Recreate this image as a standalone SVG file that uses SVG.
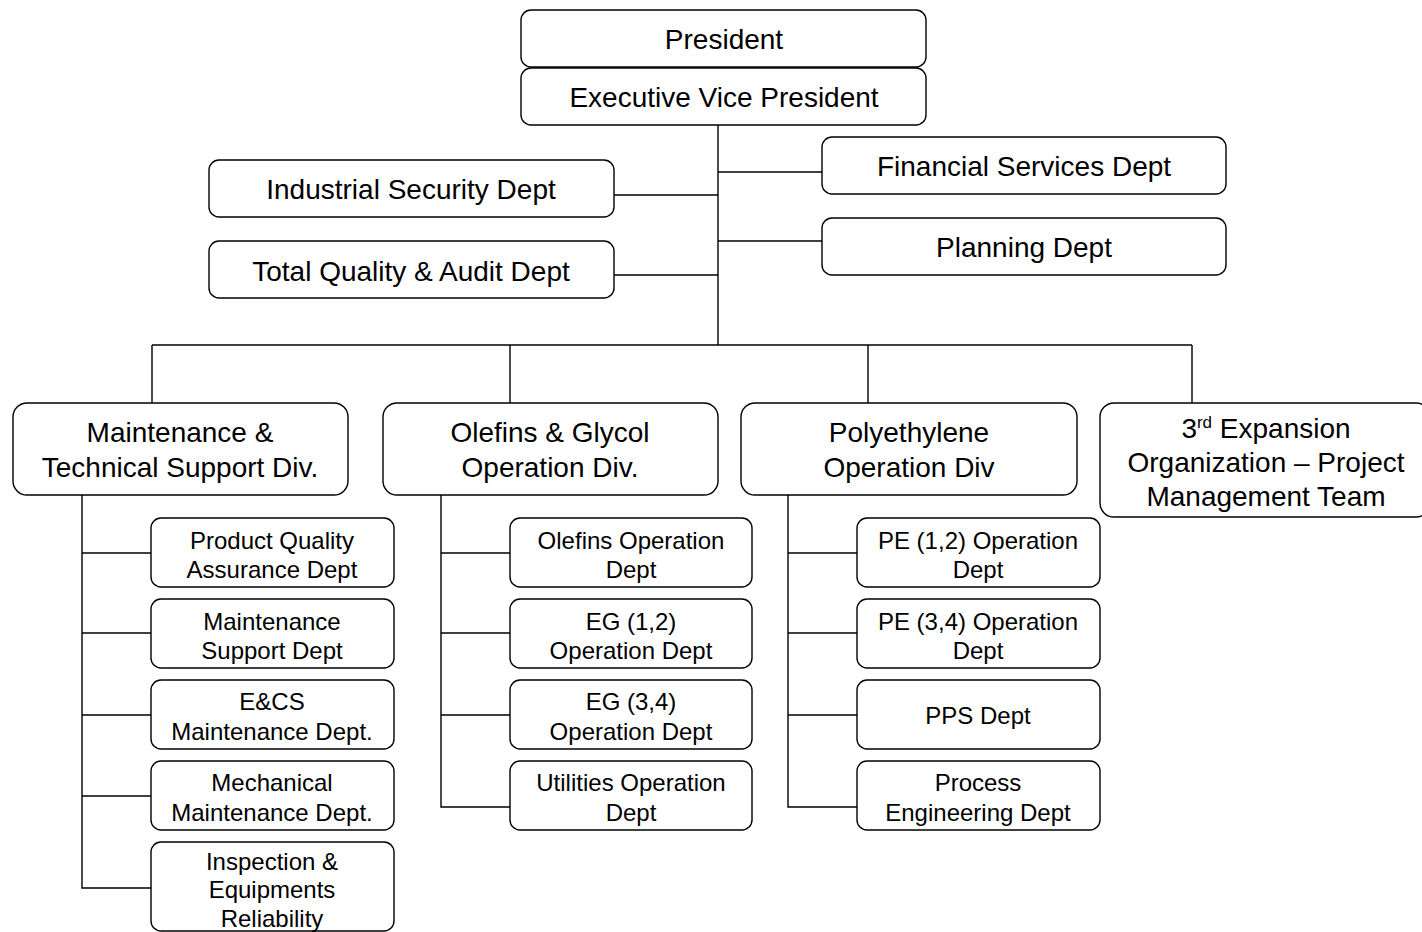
<svg xmlns="http://www.w3.org/2000/svg" width="1422" height="932" viewBox="0 0 1422 932">
  <style>
    .box { fill: #ffffff; stroke: #000000; stroke-width: 1.4; }
    .wire { fill: none; stroke: #000000; stroke-width: 1.4; }
    .lg { font-family: "Liberation Sans", Arial, sans-serif; font-size: 28px; fill: #000000; text-anchor: middle; }
    .sm { font-family: "Liberation Sans", Arial, sans-serif; font-size: 24px; fill: #000000; text-anchor: middle; }
  </style>
  <rect x="0" y="0" width="1422" height="932" fill="#ffffff"/>

  <!-- connectors -->
  <g id="connectors" class="wire">
    <path d="M718 125 V345"/>
    <path d="M718 172 H822"/>
    <path d="M718 241 H822"/>
    <path d="M614 195 H718"/>
    <path d="M614 275 H718"/>
    <path d="M152 345 H1192"/>
    <path d="M152 345 V403"/>
    <path d="M510 345 V403"/>
    <path d="M868 345 V403"/>
    <path d="M1192 345 V403"/>
    <!-- maintenance branch -->
    <path d="M82 495 V888 H151"/>
    <path d="M82 553 H151"/>
    <path d="M82 633 H151"/>
    <path d="M82 715 H151"/>
    <path d="M82 796 H151"/>
    <!-- olefins branch -->
    <path d="M441 495 V807 H510"/>
    <path d="M441 553 H510"/>
    <path d="M441 633 H510"/>
    <path d="M441 715 H510"/>
    <!-- polyethylene branch -->
    <path d="M788 495 V807 H857"/>
    <path d="M788 553 H857"/>
    <path d="M788 633 H857"/>
    <path d="M788 715 H857"/>
  </g>

  <g id="president">
    <rect class="box" x="521" y="10" width="405" height="57" rx="10"/>
    <text class="lg" x="724" y="49">President</text>
  </g>
  <g id="evp">
    <rect class="box" x="521" y="68" width="405" height="57" rx="10"/>
    <text class="lg" x="724" y="107">Executive Vice President</text>
  </g>
  <g id="financial">
    <rect class="box" x="822" y="137" width="404" height="57" rx="10"/>
    <text class="lg" x="1024" y="176">Financial Services Dept</text>
  </g>
  <g id="planning">
    <rect class="box" x="822" y="218" width="404" height="57" rx="10"/>
    <text class="lg" x="1024" y="257">Planning Dept</text>
  </g>
  <g id="security">
    <rect class="box" x="209" y="160" width="405" height="57" rx="10"/>
    <text class="lg" x="411" y="199">Industrial Security Dept</text>
  </g>
  <g id="quality">
    <rect class="box" x="209" y="241" width="405" height="57" rx="10"/>
    <text class="lg" x="411" y="281">Total Quality &amp; Audit Dept</text>
  </g>

  <g id="maint-div">
    <rect class="box" x="13" y="403" width="335" height="92" rx="14"/>
    <text class="lg" x="180" y="442">Maintenance &amp;</text>
    <text class="lg" x="180" y="477">Technical Support Div.</text>
  </g>
  <g id="olefins-div">
    <rect class="box" x="383" y="403" width="335" height="92" rx="14"/>
    <text class="lg" x="550" y="442">Olefins &amp; Glycol</text>
    <text class="lg" x="550" y="477">Operation Div.</text>
  </g>
  <g id="pe-div">
    <rect class="box" x="741" y="403" width="336" height="92" rx="14"/>
    <text class="lg" x="909" y="442">Polyethylene</text>
    <text class="lg" x="909" y="477">Operation Div</text>
  </g>
  <g id="expansion">
    <rect class="box" x="1100" y="403" width="330" height="114" rx="14"/>
    <text class="lg" x="1266" y="438">3<tspan font-size="17" dy="-10">rd</tspan><tspan dy="10"> Expansion</tspan></text>
    <text class="lg" x="1266" y="472">Organization – Project</text>
    <text class="lg" x="1266" y="506">Management Team</text>
  </g>

  <!-- maintenance departments -->
  <g id="pqa">
    <rect class="box" x="151" y="518" width="243" height="69" rx="10"/>
    <text class="sm" x="272" y="549">Product Quality</text>
    <text class="sm" x="272" y="578">Assurance Dept</text>
  </g>
  <g id="maint-support">
    <rect class="box" x="151" y="599" width="243" height="69" rx="10"/>
    <text class="sm" x="272" y="630">Maintenance</text>
    <text class="sm" x="272" y="659">Support Dept</text>
  </g>
  <g id="ecs">
    <rect class="box" x="151" y="680" width="243" height="69" rx="10"/>
    <text class="sm" x="272" y="710">E&amp;CS</text>
    <text class="sm" x="272" y="740">Maintenance Dept.</text>
  </g>
  <g id="mech">
    <rect class="box" x="151" y="761" width="243" height="69" rx="10"/>
    <text class="sm" x="272" y="791">Mechanical</text>
    <text class="sm" x="272" y="821">Maintenance Dept.</text>
  </g>
  <g id="inspection">
    <rect class="box" x="151" y="842" width="243" height="89" rx="10"/>
    <text class="sm" x="272" y="870">Inspection &amp;</text>
    <text class="sm" x="272" y="898">Equipments</text>
    <text class="sm" x="272" y="927">Reliability</text>
  </g>

  <!-- olefins departments -->
  <g id="olefins-op">
    <rect class="box" x="510" y="518" width="242" height="69" rx="10"/>
    <text class="sm" x="631" y="549">Olefins Operation</text>
    <text class="sm" x="631" y="578">Dept</text>
  </g>
  <g id="eg12">
    <rect class="box" x="510" y="599" width="242" height="69" rx="10"/>
    <text class="sm" x="631" y="630">EG (1,2)</text>
    <text class="sm" x="631" y="659">Operation Dept</text>
  </g>
  <g id="eg34">
    <rect class="box" x="510" y="680" width="242" height="69" rx="10"/>
    <text class="sm" x="631" y="710">EG (3,4)</text>
    <text class="sm" x="631" y="740">Operation Dept</text>
  </g>
  <g id="utilities">
    <rect class="box" x="510" y="761" width="242" height="69" rx="10"/>
    <text class="sm" x="631" y="791">Utilities Operation</text>
    <text class="sm" x="631" y="821">Dept</text>
  </g>

  <!-- polyethylene departments -->
  <g id="pe12">
    <rect class="box" x="857" y="518" width="243" height="69" rx="10"/>
    <text class="sm" x="978" y="549">PE (1,2) Operation</text>
    <text class="sm" x="978" y="578">Dept</text>
  </g>
  <g id="pe34">
    <rect class="box" x="857" y="599" width="243" height="69" rx="10"/>
    <text class="sm" x="978" y="630">PE (3,4) Operation</text>
    <text class="sm" x="978" y="659">Dept</text>
  </g>
  <g id="pps">
    <rect class="box" x="857" y="680" width="243" height="69" rx="10"/>
    <text class="sm" x="978" y="724">PPS Dept</text>
  </g>
  <g id="process-eng">
    <rect class="box" x="857" y="761" width="243" height="69" rx="10"/>
    <text class="sm" x="978" y="791">Process</text>
    <text class="sm" x="978" y="821">Engineering Dept</text>
  </g>
</svg>
